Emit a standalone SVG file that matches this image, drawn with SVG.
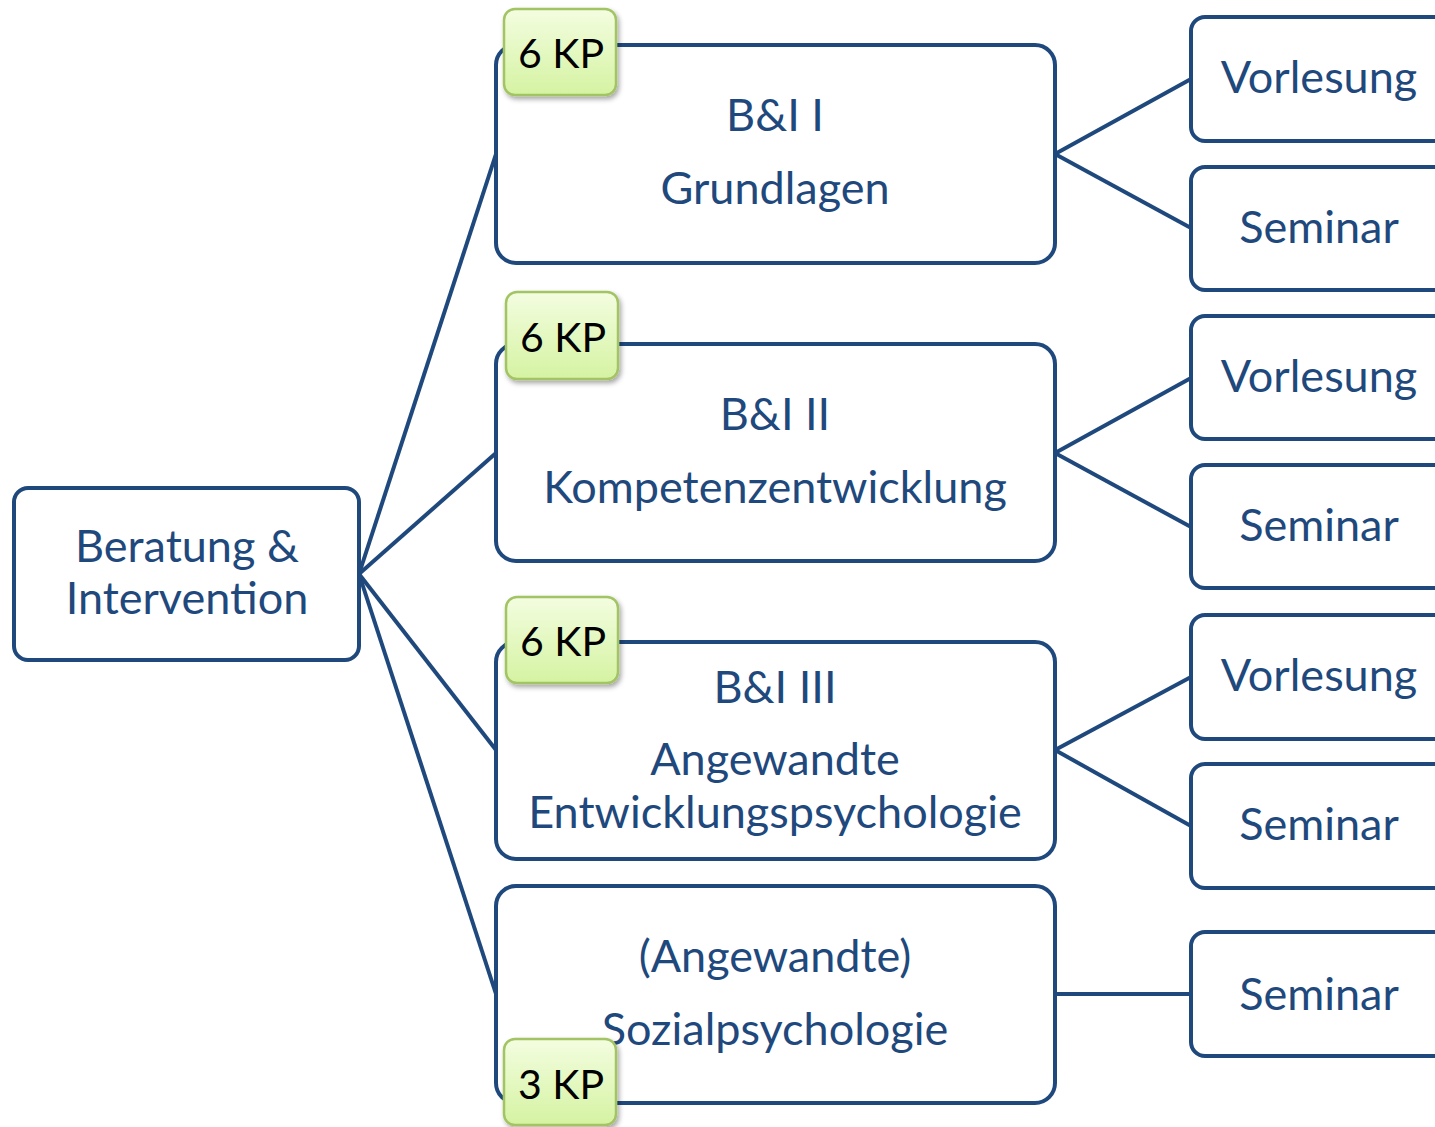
<svg xmlns="http://www.w3.org/2000/svg" width="1435" height="1127" viewBox="0 0 1435 1127">
<defs>
<linearGradient id="kpGrad" x1="0" y1="0" x2="0" y2="1">
<stop offset="0" stop-color="#f3fde0"/>
<stop offset="1" stop-color="#d5f3a2"/>
</linearGradient>
<filter id="shadow" x="-20%" y="-20%" width="150%" height="150%">
<feDropShadow dx="2" dy="3" stdDeviation="2.5" flood-color="#000" flood-opacity="0.35"/>
</filter>
<style>
.box{fill:#ffffff;stroke:#1f497d;stroke-width:4}
.lbl{font-family:Lato,"Open Sans","Liberation Sans",sans-serif;font-size:45px;fill:#1f497d;text-anchor:middle}
.kp{fill:url(#kpGrad);stroke:#a2c465;stroke-width:2.5;filter:url(#shadow)}
.kpt{font-family:Lato,"Open Sans","Liberation Sans",sans-serif;font-size:41px;fill:#000000}
.con{stroke:#1f497d;stroke-width:4;fill:none}
</style>
</defs>
<rect width="1435" height="1127" fill="#ffffff"/>

<g id="connectors">
<line class="con" x1="359" y1="574" x2="496" y2="154"/>
<line class="con" x1="359" y1="574" x2="496" y2="453"/>
<line class="con" x1="359" y1="574" x2="496" y2="750"/>
<line class="con" x1="359" y1="574" x2="496" y2="994"/>
<line class="con" x1="1055" y1="154" x2="1191" y2="79"/>
<line class="con" x1="1055" y1="154" x2="1191" y2="228"/>
<line class="con" x1="1055" y1="453" x2="1191" y2="378"/>
<line class="con" x1="1055" y1="453" x2="1191" y2="527"/>
<line class="con" x1="1055" y1="750" x2="1191" y2="677"/>
<line class="con" x1="1055" y1="750" x2="1191" y2="826"/>
<line class="con" x1="1055" y1="994" x2="1191" y2="994"/>
</g>

<g id="root">
<rect class="box" x="14" y="488" width="345" height="172" rx="14"/>
<text class="lbl" x="187" y="562">Beratung &amp;</text>
<text class="lbl" x="187" y="614">Intervention</text>
</g>

<g id="module1">
<rect class="box" x="496" y="45" width="559" height="218" rx="20"/>
<text class="lbl" x="775" y="131">B&amp;I I</text>
<text class="lbl" x="775" y="204">Grundlagen</text>
</g>
<g id="kp1">
<rect class="kp" x="504" y="9" width="112" height="86" rx="11"/>
<text class="kpt" x="518" y="68">6 KP</text>
</g>

<g id="module2">
<rect class="box" x="496" y="344" width="559" height="217" rx="20"/>
<text class="lbl" x="775" y="430">B&amp;I II</text>
<text class="lbl" x="775" y="503">Kompetenzentwicklung</text>
</g>
<g id="kp2">
<rect class="kp" x="506" y="292" width="112" height="87" rx="11"/>
<text class="kpt" x="520" y="352">6 KP</text>
</g>

<g id="module3">
<rect class="box" x="496" y="642" width="559" height="217" rx="20"/>
<text class="lbl" x="775" y="703">B&amp;I III</text>
<text class="lbl" x="775" y="775">Angewandte</text>
<text class="lbl" x="775" y="828">Entwicklungspsychologie</text>
</g>
<g id="kp3">
<rect class="kp" x="506" y="597" width="112" height="86" rx="11"/>
<text class="kpt" x="520" y="656">6 KP</text>
</g>

<g id="module4">
<rect class="box" x="496" y="886" width="559" height="217" rx="20"/>
<text class="lbl" x="775" y="972">(Angewandte)</text>
<text class="lbl" x="775" y="1045">Sozialpsychologie</text>
</g>
<g id="kp4">
<rect class="kp" x="504" y="1039" width="112" height="86" rx="11"/>
<text class="kpt" x="518" y="1099">3 KP</text>
</g>

<g id="v1">
<rect class="box" x="1191" y="17" width="280" height="124" rx="14"/>
<text class="lbl" x="1319" y="93">Vorlesung</text>
</g>
<g id="s1">
<rect class="box" x="1191" y="167" width="280" height="123" rx="14"/>
<text class="lbl" x="1319" y="243">Seminar</text>
</g>
<g id="v2">
<rect class="box" x="1191" y="316" width="280" height="123" rx="14"/>
<text class="lbl" x="1319" y="392">Vorlesung</text>
</g>
<g id="s2">
<rect class="box" x="1191" y="465" width="280" height="123" rx="14"/>
<text class="lbl" x="1319" y="541">Seminar</text>
</g>
<g id="v3">
<rect class="box" x="1191" y="615" width="280" height="124" rx="14"/>
<text class="lbl" x="1319" y="691">Vorlesung</text>
</g>
<g id="s3">
<rect class="box" x="1191" y="764" width="280" height="124" rx="14"/>
<text class="lbl" x="1319" y="840">Seminar</text>
</g>
<g id="s4">
<rect class="box" x="1191" y="932" width="280" height="124" rx="14"/>
<text class="lbl" x="1319" y="1010">Seminar</text>
</g>
</svg>
